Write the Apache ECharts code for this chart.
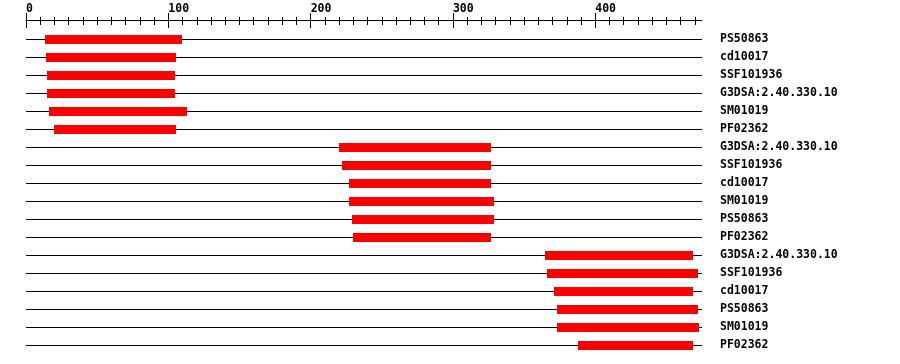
<!DOCTYPE html>
<html>
<head>
<meta charset="utf-8">
<script src="https://cdn.jsdelivr.net/npm/echarts@6/dist/echarts.min.js"></script>
<style>
html,body{margin:0;padding:0;background:#fff;}
#chart{width:900px;height:364px;}
</style>
</head>
<body>
<div id="chart"></div>
<script>
const proteinLength = 475;
const rowNames = ['PS50863','cd10017','SSF101936','G3DSA:2.40.330.10','SM01019','PF02362',
  'G3DSA:2.40.330.10','SSF101936','cd10017','SM01019','PS50863','PF02362',
  'G3DSA:2.40.330.10','SSF101936','cd10017','PS50863','SM01019','PF02362'];
const domainStarts = [13,14,15,15,16,20, 220,222,227,227,229,230, 365,366,371,373,373,388];
const domainEnds   = [109,105,105,105,113,106, 327,327,327,329,329,327, 469,472,469,472,473,469];
const majorTicks = [0,100,200,300,400];
const minorTicks = [10,20,30,40,50,60,70,80,90,110,120,130,140,150,160,170,180,190,
  210,220,230,240,250,260,270,280,290,310,320,330,340,350,360,370,380,390,
  410,420,430,440,450,460,470];

const font = {fontFamily:'DejaVu Sans Mono', fontWeight:'bold', fontSize:11.5, color:'#000'};
const rowIdx = rowNames.map((_, i) => i);

const baseX = {type:'value', min:0, max:proteinLength, position:'top', gridIndex:0,
  splitLine:{show:false}, axisLine:{show:false}, axisTick:{show:false}, axisLabel:{show:false}};

const chart = echarts.init(document.getElementById('chart'), null, {renderer:'canvas'});
chart.setOption({
  animation:false,
  backgroundColor:'#fff',
  grid:{left:26, right:198, top:30, bottom:10, containLabel:false},
  xAxis:[
    Object.assign({}, baseX, {offset:10,
      axisLine:{show:true, lineStyle:{color:'#000', width:1}},
      axisLabel:Object.assign({show:true, customValues:majorTicks, align:'left', margin:5,
        formatter: v => String(v)}, font)}),
    Object.assign({}, baseX, {offset:17,
      axisTick:{show:true, inside:true, length:15, customValues:majorTicks, lineStyle:{color:'#000', width:1}}}),
    Object.assign({}, baseX, {offset:13,
      axisTick:{show:true, inside:true, length:8, customValues:minorTicks, lineStyle:{color:'#000', width:1}}})
  ],
  yAxis:{type:'category', data:rowIdx, inverse:true, position:'right',
    axisLine:{show:false}, axisTick:{show:false}, splitLine:{show:false},
    axisLabel:Object.assign({show:true, margin:18, align:'left', interval:0,
      formatter:(v, i) => rowNames[i]}, font)},
  series:[
    {type:'custom', xAxisIndex:0, yAxisIndex:0,
     data: rowIdx.map(i => [0, proteinLength, i]),
     renderItem:(params, api) => {
       const a = api.coord([api.value(0), api.value(2)]);
       const b = api.coord([api.value(1), api.value(2)]);
       return {type:'rect', shape:{x:Math.round(a[0]), y:Math.floor(a[1]), width:Math.round(b[0]-a[0]), height:1},
         style:{fill:'#000'}};
     }},
    {type:'custom', xAxisIndex:0, yAxisIndex:0,
     data: rowIdx.map(i => [domainStarts[i], domainEnds[i], i]),
     renderItem:(params, api) => {
       const a = api.coord([api.value(0), api.value(2)]);
       const b = api.coord([api.value(1), api.value(2)]);
       return {type:'rect', shape:{x:Math.round(a[0]), y:Math.floor(a[1])-4, width:Math.round(b[0]-a[0]), height:9},
         style:{fill:'#ff0000'}};
     }}
  ]
});
</script>
</body>
</html>
